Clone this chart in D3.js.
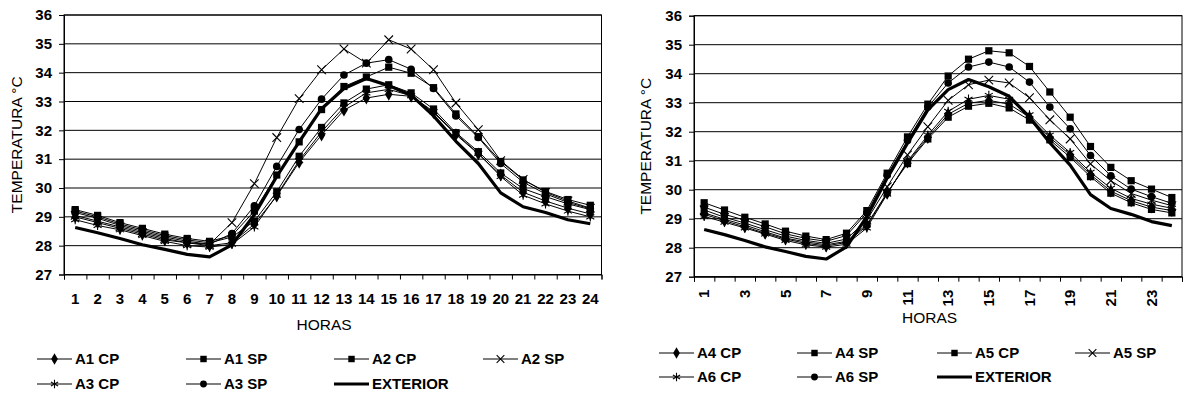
<!DOCTYPE html>
<html>
<head>
<meta charset="utf-8">
<script src="https://cdn.jsdelivr.net/npm/d3@7"></script>
<style>
  body { margin: 0; background: #fff; }
  svg { display: block; font-family: "Liberation Sans", Arial, sans-serif; }
</style>
</head>
<body>
<svg id="chart" width="1183" height="396"></svg>
<script>
const hours = [1, 2, 3, 4, 5, 6, 7, 8, 9, 10, 11, 12, 13, 14, 15, 16, 17, 18, 19, 20, 21, 22, 23, 24]
const oddHours = [1, 3, 5, 7, 9, 11, 13, 15, 17, 19, 21, 23]
const tempTicks = [27, 28, 29, 30, 31, 32, 33, 34, 35, 36]

const exterior = [28.63, 28.45, 28.25, 28.03, 27.87, 27.7, 27.61, 28.03, 29.07, 30.4, 31.6, 32.75, 33.45, 33.8, 33.55, 33.22, 32.5, 31.62, 30.85, 29.83, 29.35, 29.15, 28.9, 28.76]

// left chart
const a1cp = [29.0, 28.8, 28.6, 28.4, 28.2, 28.1, 28.0, 28.1, 28.75, 29.72, 30.89, 31.84, 32.7, 33.12, 33.25, 33.18, 32.62, 31.85, 31.18, 30.45, 29.85, 29.55, 29.3, 29.1]
const a1sp = [29.25, 29.05, 28.8, 28.6, 28.4, 28.25, 28.15, 28.35, 29.2, 30.45, 31.6, 32.72, 33.52, 33.85, 34.19, 33.98, 33.48, 32.57, 31.78, 30.92, 30.28, 29.88, 29.6, 29.4]
const a2cp = [29.2, 29.0, 28.75, 28.55, 28.35, 28.2, 28.1, 28.3, 28.85, 29.87, 31.1, 32.1, 32.95, 33.43, 33.58, 33.3, 32.74, 31.92, 31.26, 30.52, 29.98, 29.7, 29.45, 29.25]
const a2sp = [29.05, 28.85, 28.65, 28.45, 28.25, 28.1, 28.05, 28.8, 30.15, 31.75, 33.1, 34.1, 34.82, 34.33, 35.14, 34.82, 34.1, 32.95, 32.02, 30.95, 30.3, 29.85, 29.55, 29.3]
const a3cp = [28.9, 28.7, 28.55, 28.35, 28.15, 28.0, 27.95, 28.05, 28.65, 29.75, 30.95, 31.95, 32.8, 33.3, 33.42, 33.2, 32.65, 31.88, 31.2, 30.4, 29.75, 29.45, 29.2, 29.0]
const a3sp = [29.15, 28.95, 28.7, 28.5, 28.3, 28.15, 28.05, 28.42, 29.38, 30.75, 32.03, 33.08, 33.92, 34.33, 34.45, 34.12, 33.45, 32.5, 31.75, 30.85, 30.2, 29.8, 29.5, 29.28]

// right chart
const a4cp = [29.15, 28.93, 28.72, 28.5, 28.3, 28.15, 28.06, 28.18, 28.75, 29.88, 30.95, 31.8, 32.6, 32.98, 33.08, 32.95, 32.5, 31.8, 31.2, 30.52, 29.95, 29.62, 29.4, 29.28]
const a4sp = [29.55, 29.3, 29.05, 28.82, 28.57, 28.4, 28.28, 28.5, 29.28, 30.57, 31.82, 32.95, 33.92, 34.5, 34.79, 34.72, 34.25, 33.37, 32.5, 31.49, 30.77, 30.31, 30.02, 29.73]
const a5cp = [29.2, 28.98, 28.78, 28.55, 28.33, 28.2, 28.1, 28.22, 28.8, 29.9, 30.9, 31.75, 32.5, 32.88, 32.98, 32.82, 32.4, 31.72, 31.12, 30.45, 29.88, 29.55, 29.32, 29.2]
const a5sp = [29.3, 29.05, 28.85, 28.62, 28.4, 28.25, 28.15, 28.3, 28.95, 30.1, 31.2, 32.17, 33.08, 33.62, 33.78, 33.68, 33.17, 32.41, 31.75, 30.89, 30.31, 29.87, 29.64, 29.45]
const a6cp = [29.08, 28.88, 28.68, 28.47, 28.25, 28.1, 28.02, 28.12, 28.68, 29.85, 30.98, 31.88, 32.7, 33.12, 33.25, 33.12, 32.58, 31.88, 31.28, 30.6, 30.05, 29.7, 29.5, 29.36]
const a6sp = [29.4, 29.15, 28.95, 28.72, 28.48, 28.32, 28.22, 28.42, 29.2, 30.5, 31.7, 32.85, 33.68, 34.23, 34.4, 34.23, 33.71, 32.85, 32.1, 31.18, 30.48, 30.02, 29.76, 29.53]

const markers = {
  diamond: { type: d3.symbolDiamond, size: 48, fill: true },
  square: { type: d3.symbolSquare, size: 52, fill: true },
  circle: { type: d3.symbolCircle, size: 46, fill: true },
  x: { type: d3.symbolX, size: 50, fill: false },
  star: { type: d3.symbolAsterisk, size: 60, fill: false }
}

const svg = d3.select('#chart')

function drawChart(cfg) {
  const g = svg.append('g')

  const x = d3.scaleBand().domain(hours).range([cfg.left, cfg.right])
  const xEdge = d3.scaleLinear().domain([0, hours.length]).range([cfg.left, cfg.right])
  const y = d3.scaleLinear().domain([27, 36]).range([cfg.bottom, cfg.top])
  const cx = h => x(h) + x.bandwidth() / 2

  // grid
  g.append('g')
    .selectAll('line')
    .data(tempTicks)
    .join('line')
    .attr('x1', cfg.left).attr('x2', cfg.right)
    .attr('y1', d => y(d)).attr('y2', d => y(d))
    .attr('stroke', '#000')
    .attr('stroke-width', 1)

  g.append('rect')
    .attr('x', cfg.left).attr('y', cfg.top)
    .attr('width', cfg.right - cfg.left).attr('height', cfg.bottom - cfg.top)
    .attr('fill', 'none').attr('stroke', '#000')

  // y axis
  g.append('g')
    .attr('transform', `translate(${cfg.left},0)`)
    .call(d3.axisLeft(y).tickValues(tempTicks).tickSize(5).tickPadding(7))
    .call(a => a.select('.domain').attr('stroke', '#000'))
    .call(a => a.selectAll('text').attr('font-size', 15).attr('font-weight', 'bold').attr('fill', '#000').attr('font-family', null))

  // x axis ticks on band edges
  g.append('g')
    .attr('transform', `translate(0,${cfg.bottom})`)
    .call(d3.axisBottom(xEdge).tickValues(d3.range(hours.length + 1)).tickSize(5).tickFormat(''))
    .call(a => a.select('.domain').attr('stroke', '#000'))

  const labels = g.append('g')
    .attr('transform', `translate(0,${cfg.bottom})`)
    .call(d3.axisBottom(x).tickValues(cfg.rotated ? oddHours : hours).tickSize(0).tickPadding(0))
  labels.select('.domain').remove()
  labels.selectAll('text')
    .attr('font-size', 15).attr('font-weight', 'bold').attr('fill', '#000').attr('font-family', null)
  if (cfg.rotated) {
    labels.selectAll('text')
      .attr('y', 0).attr('dy', '0.35em')
      .attr('text-anchor', 'end')
      .attr('transform', 'translate(0,13) rotate(-90)')
  } else {
    labels.selectAll('text').attr('y', 0).attr('dy', 0).attr('transform', 'translate(0,29)')
  }

  // axis titles
  g.append('text')
    .attr('transform', `translate(${cfg.yTitleX},${(cfg.top + cfg.bottom) / 2}) rotate(-90)`)
    .attr('text-anchor', 'middle').attr('dy', '0.35em')
    .attr('font-size', 15.5)
    .text('TEMPERATURA °C')

  g.append('text')
    .attr('x', cfg.xTitle[0]).attr('y', cfg.xTitle[1])
    .attr('text-anchor', 'middle').attr('dy', '0.35em')
    .attr('font-size', 15.5)
    .text('HORAS')

  // series
  const line = d3.line().x((d, i) => cx(hours[i])).y(d => y(d))
  const symbol = d3.symbol()

  cfg.series.forEach(s => {
    const sg = g.append('g')
    sg.append('path')
      .datum(s.values)
      .attr('fill', 'none')
      .attr('stroke', '#000')
      .attr('stroke-width', s.thick ? 3.2 : 1)
      .attr('stroke-linejoin', 'round')
      .attr('d', line)
    if (s.marker) {
      const m = markers[s.marker]
      sg.selectAll('path.mk')
        .data(s.values)
        .join('path')
        .attr('class', 'mk')
        .attr('transform', (d, i) => `translate(${cx(hours[i])},${y(d)})`)
        .attr('d', symbol.type(m.type).size(m.size))
        .attr('fill', m.fill ? '#000' : 'none')
        .attr('stroke', '#000')
        .attr('stroke-width', m.fill ? 0 : 1.1)
    }
  })

  // legend
  cfg.series.forEach((s, i) => {
    const col = i % 4
    const row = Math.floor(i / 4)
    const lx = cfg.legendX[col]
    const ly = cfg.legendY[row]
    const lg = g.append('g').attr('transform', `translate(${lx},${ly})`)
    lg.append('line')
      .attr('x1', 0).attr('x2', 35)
      .attr('stroke', '#000')
      .attr('stroke-width', s.thick ? 3.2 : 1)
    if (s.marker) {
      const m = markers[s.marker]
      lg.append('path')
        .attr('transform', 'translate(17.5,0)')
        .attr('d', symbol.type(m.type).size(m.size * 0.8))
        .attr('fill', m.fill ? '#000' : 'none')
        .attr('stroke', '#000')
        .attr('stroke-width', m.fill ? 0 : 1.1)
    }
    lg.append('text')
      .attr('x', 38).attr('dy', '0.35em')
      .attr('font-size', 15).attr('font-weight', 'bold')
      .text(s.name)
  })
}

drawChart({
  left: 64, right: 601.5, top: 15, bottom: 274.5,
  rotated: false,
  yTitleX: 17,
  xTitle: [324, 325],
  legendX: [37, 186, 334, 483],
  legendY: [359, 384],
  series: [
    { name: 'A1 CP', values: a1cp, marker: 'diamond' },
    { name: 'A1 SP', values: a1sp, marker: 'square' },
    { name: 'A2 CP', values: a2cp, marker: 'square' },
    { name: 'A2 SP', values: a2sp, marker: 'x' },
    { name: 'A3 CP', values: a3cp, marker: 'star' },
    { name: 'A3 SP', values: a3sp, marker: 'circle' },
    { name: 'EXTERIOR', values: exterior, thick: true }
  ]
})

drawChart({
  left: 694, right: 1182, top: 15.7, bottom: 276.7,
  rotated: true,
  yTitleX: 646,
  xTitle: [929.5, 318],
  legendX: [659, 797, 937, 1075],
  legendY: [353, 377],
  series: [
    { name: 'A4 CP', values: a4cp, marker: 'diamond' },
    { name: 'A4 SP', values: a4sp, marker: 'square' },
    { name: 'A5 CP', values: a5cp, marker: 'square' },
    { name: 'A5 SP', values: a5sp, marker: 'x' },
    { name: 'A6 CP', values: a6cp, marker: 'star' },
    { name: 'A6 SP', values: a6sp, marker: 'circle' },
    { name: 'EXTERIOR', values: exterior, thick: true }
  ]
})
</script>
</body>
</html>
